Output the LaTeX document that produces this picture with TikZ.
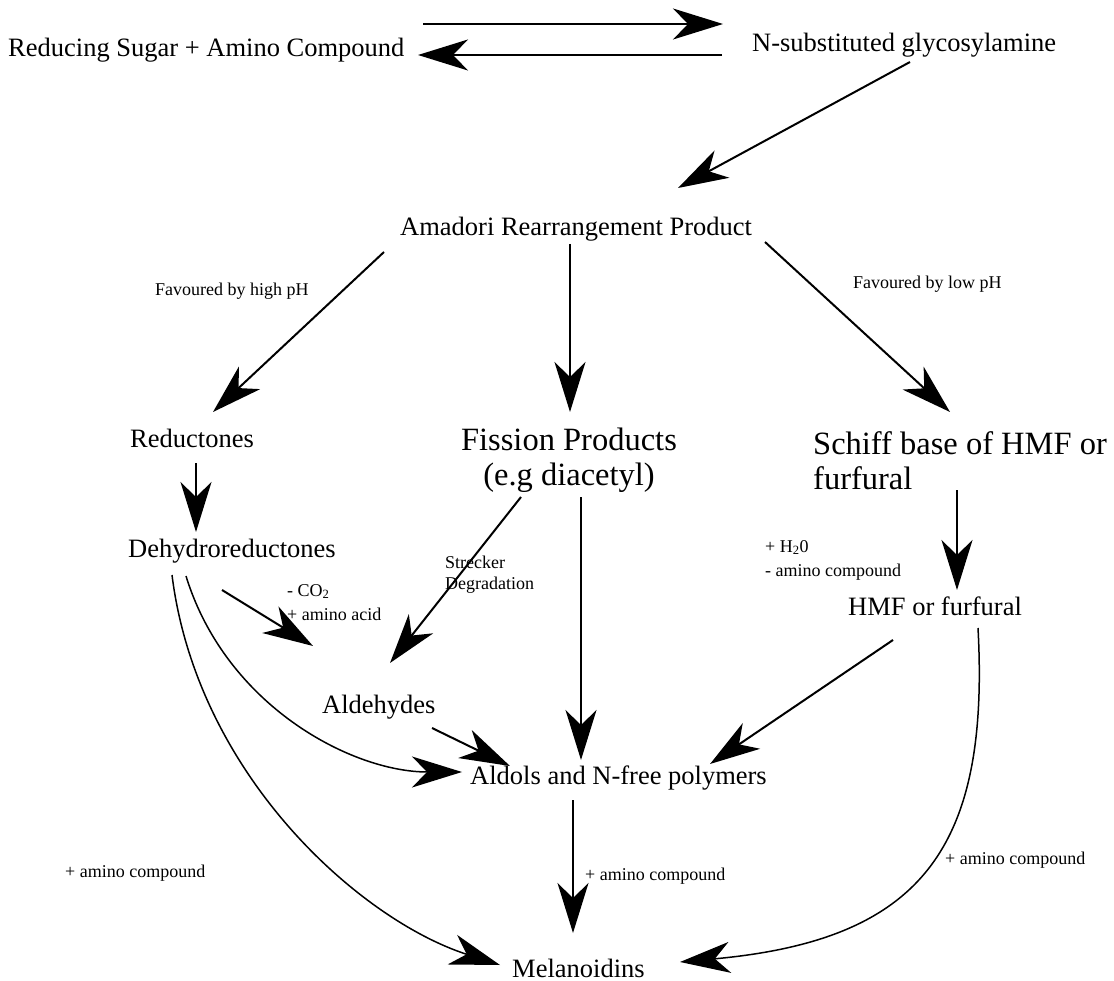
\documentclass[tikz,border=0pt]{standalone}
\usepackage{fontspec}
\setmainfont{Liberation Serif}
\usetikzlibrary{arrows.meta}
\begin{document}
\begin{tikzpicture}[x=1pt,y=-1pt,
  lbl/.style={inner sep=0pt, anchor=base west, font=\fontsize{26.5}{34}\selectfont},
  big/.style={inner sep=0pt, font=\fontsize{32.5}{35}\selectfont},
  sml/.style={inner sep=0pt, anchor=base west, font=\fontsize{18}{24}\selectfont},
  arr/.style={-{Stealth[length=50pt,width=31pt,inset=15pt]}, line width=2pt},
  arrthin/.style={arr, line width=1.3pt},
  curve/.style={arr, line width=1.5pt}]
\useasboundingbox (0,0) rectangle (1114,981);

\node[lbl] (sugar) at (8,57) {Reducing Sugar + Amino Compound};
\node[lbl] (glyco) at (752,52) {N-substituted glycosylamine};
\node[lbl] (amadori) at (400,236) {Amadori Rearrangement Product};
\node[sml] (high) at (155,296) {Favoured by high pH};
\node[sml] (low) at (853,289) {Favoured by low pH};
\node[lbl] (reduct) at (130,448) {Reductones};
\node[big, anchor=north, align=center] (fission) at (569,428) {Fission Products\\(e.g diacetyl)};
\node[big, anchor=north west, align=left] (schiff) at (813,431) {Schiff base of HMF or\\furfural};
\node[lbl] (dehydro) at (128,557) {Dehydroreductones};
\node[sml, anchor=north west, align=left, font=\fontsize{18}{21}\selectfont] (strecker) at (445,556) {Strecker\\Degradation};
\node[sml, anchor=north west, align=left] (co2) at (287,584) {- CO\textsubscript{2}\\+ amino acid};
\node[sml, anchor=north west, align=left] (h2o) at (765,540) {+ H\textsubscript{2}0\\- amino compound};
\node[lbl] (hmf) at (848,615) {HMF or furfural};
\node[lbl] (ald) at (322,713) {Aldehydes};
\node[lbl] (aldols) at (470,784) {Aldols and N-free polymers};
\node[sml] (amL) at (65,877) {+ amino compound};
\node[sml] (amM) at (585,880) {+ amino compound};
\node[sml] (amR) at (945,864) {+ amino compound};
\node[lbl] (mel) at (512,977) {Melanoidins};

\draw[arr] ([shift={(415,-33)}]sugar.base west) -- ([shift={(-29,-28)}]glyco.base west);
\draw[arr] ([shift={(-30,3)}]glyco.base west) -- ([shift={(410,-2)}]sugar.base west);
\draw[arr] ([shift={(158,10)}]glyco.base west) -- ([shift={(278,-48)}]amadori.base west);
\draw[arr] ([shift={(-16,16)}]amadori.base west) -- ([shift={(83,-36)}]reduct.base west);
\draw[arrthin] ([shift={(170,8)}]amadori.base west) -- ([shift={(1,-16)}]fission.north);
\draw[arr] ([shift={(365,6)}]amadori.base west) -- ([shift={(137,-19)}]schiff.north west);
\draw[arrthin] ([shift={(66,15)}]reduct.base west) -- ([shift={(68,-25)}]dehydro.base west);
\draw[arrthin] ([shift={(144,59)}]schiff.north west) -- ([shift={(109,-25)}]hmf.base west);
\draw[arr] ([shift={(-48,69)}]fission.north) -- ([shift={(68,-50)}]ald.base west);
\draw[arr] ([shift={(94,33)}]dehydro.base west) -- ([shift={(-9,-67)}]ald.base west);
\draw[arr] ([shift={(110,15)}]ald.base west) -- ([shift={(40,-18)}]aldols.base west);
\draw[arrthin] ([shift={(12,69)}]fission.north) -- ([shift={(111,-24)}]aldols.base west);
\draw[arr] ([shift={(45,25)}]hmf.base west) -- ([shift={(240,-20)}]aldols.base west);
\draw[arrthin] ([shift={(103,16)}]aldols.base west) -- ([shift={(61,-44)}]mel.base west);
\draw[curve] ([shift={(58,19)}]dehydro.base west) .. controls +(40,130) and +(-110,0) .. ([shift={(-8,-12)}]aldols.base west);
\draw[curve] ([shift={(44,18)}]dehydro.base west) .. controls +(25,200) and +(-140,-45) .. ([shift={(-12,-12)}]mel.base west);
\draw[curve] ([shift={(130,13)}]hmf.base west) .. controls +(12,222) and +(240,-22) .. ([shift={(168,-15)}]mel.base west);
\end{tikzpicture}
\end{document}
